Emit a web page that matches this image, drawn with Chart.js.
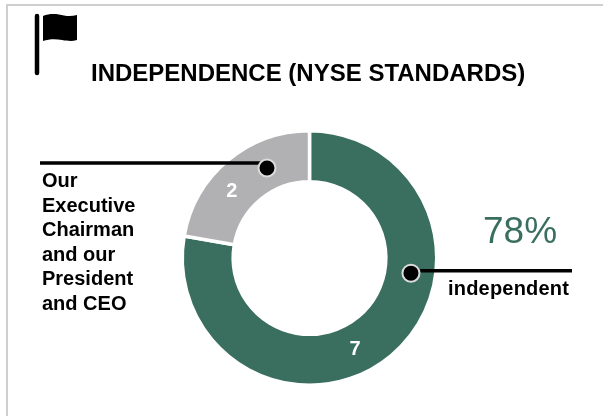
<!DOCTYPE html>
<html lang="en">
<head>
<meta charset="UTF-8">
<title>Independence (NYSE Standards)</title>
<script src="https://cdn.jsdelivr.net/npm/chart.js"></script>
<style>
  html, body { margin: 0; padding: 0; background: #fff; }
  body { width: 603px; height: 416px; position: relative; overflow: hidden; font-family: "Liberation Sans", Arial, sans-serif; color: #000; }
  .frame { position: absolute; left: 6px; top: 4px; width: 597px; height: 412px; border-left: 2.5px solid #cfcfcf; border-top: 2.5px solid #cfcfcf; box-sizing: border-box; }
  canvas { position: absolute; left: 0; top: 0; }
  .flag { position: absolute; left: 0; top: 0; }
  .title { position: absolute; left: 91px; top: 59px; font-size: 24px; line-height: 28px; font-weight: bold; white-space: nowrap; }
  .note { position: absolute; left: 42px; top: 168px; font-size: 20px; line-height: 24.6px; font-weight: bold; }
  .pct { position: absolute; left: 483px; top: 207px; font-size: 37px; line-height: 48px; color: #3a6f60; }
  .indep { position: absolute; left: 448px; top: 276px; font-size: 20px; line-height: 24px; font-weight: bold; letter-spacing: 0.2px; white-space: nowrap; }
</style>
</head>
<body>
<div class="frame"></div>
<canvas id="donut" width="603" height="416"></canvas>
<svg class="flag" width="90" height="80">
  <line x1="37" y1="16" x2="37" y2="73" stroke="#000" stroke-width="4.5" stroke-linecap="round"/>
  <path d="M43 16 C50 13 58 14 64 15.5 C69 16.5 73 16 77 15 L77 40 C72 41.5 68 41 62 40 C56 39 49 39 43 41 Z" fill="#000"/>
</svg>
<div class="title" id="title"></div>
<div class="note" id="note"></div>
<div class="pct" id="pct"></div>
<div class="indep" id="indep"></div>

<script>
var titleText = 'INDEPENDENCE (NYSE STANDARDS)';
var categories = ['Independent', 'Our Executive Chairman and our President and CEO'];
var values = [7, 2];
var colors = ['#3a6f60', '#b1b0b3'];
var noteLines = ['Our', 'Executive', 'Chairman', 'and our', 'President', 'and CEO'];
var pctText = '78%';
var indepText = 'independent';

document.getElementById('title').textContent = titleText;
document.getElementById('note').innerHTML = noteLines.join('<br>');
document.getElementById('pct').textContent = pctText;
document.getElementById('indep').textContent = indepText;

// labels and callout dots do not sit at the arc middle in the original
function polar(arc, deg, r) {
  var a = (deg - 90) * Math.PI / 180;
  return { x: arc.x + r * Math.cos(a), y: arc.y + r * Math.sin(a) };
}

var overlay = {
  id: 'overlay',
  afterDatasetsDraw: function (chart) {
    var ctx = chart.ctx;
    var arc = chart.getDatasetMeta(0).data[0];

    // callouts
    var dotA = polar(arc, 98.5, 102.6);
    var dotB = polar(arc, -25.3, 99.5);
    ctx.strokeStyle = '#000';
    ctx.lineWidth = 3.5;
    ctx.beginPath();
    ctx.moveTo(dotA.x, dotA.y - 2.5);
    ctx.lineTo(572, dotA.y - 2.5);
    ctx.moveTo(dotB.x, dotB.y - 5);
    ctx.lineTo(40, dotB.y - 5);
    ctx.stroke();
    [dotA, dotB].forEach(function (d) {
      ctx.beginPath();
      ctx.arc(d.x, d.y, 8.5, 0, Math.PI * 2);
      ctx.fillStyle = '#000';
      ctx.fill();
      ctx.lineWidth = 2;
      ctx.strokeStyle = '#dcdcdc';
      ctx.stroke();
    });

    // value labels
    ctx.fillStyle = '#fff';
    ctx.font = 'bold 20px "Liberation Sans", Arial, sans-serif';
    ctx.textAlign = 'center';
    ctx.textBaseline = 'middle';
    var p7 = polar(arc, 153.7, 102.6);
    var p2 = polar(arc, -49.6, 102);
    ctx.fillText(String(values[0]), p7.x, p7.y);
    ctx.fillText(String(values[1]), p2.x, p2.y);
  }
};

new Chart(document.getElementById('donut').getContext('2d'), {
  type: 'doughnut',
  data: {
    labels: categories,
    datasets: [{
      data: values,
      backgroundColor: colors,
      borderColor: '#fff',
      borderWidth: 3.5
    }]
  },
  options: {
    responsive: false,
    animation: false,
    cutout: '60%',
    layout: { padding: { left: 180, right: 164, top: 129, bottom: 29 } },
    plugins: { legend: { display: false }, tooltip: { enabled: false } }
  },
  plugins: [overlay]
});
</script>
</body>
</html>
